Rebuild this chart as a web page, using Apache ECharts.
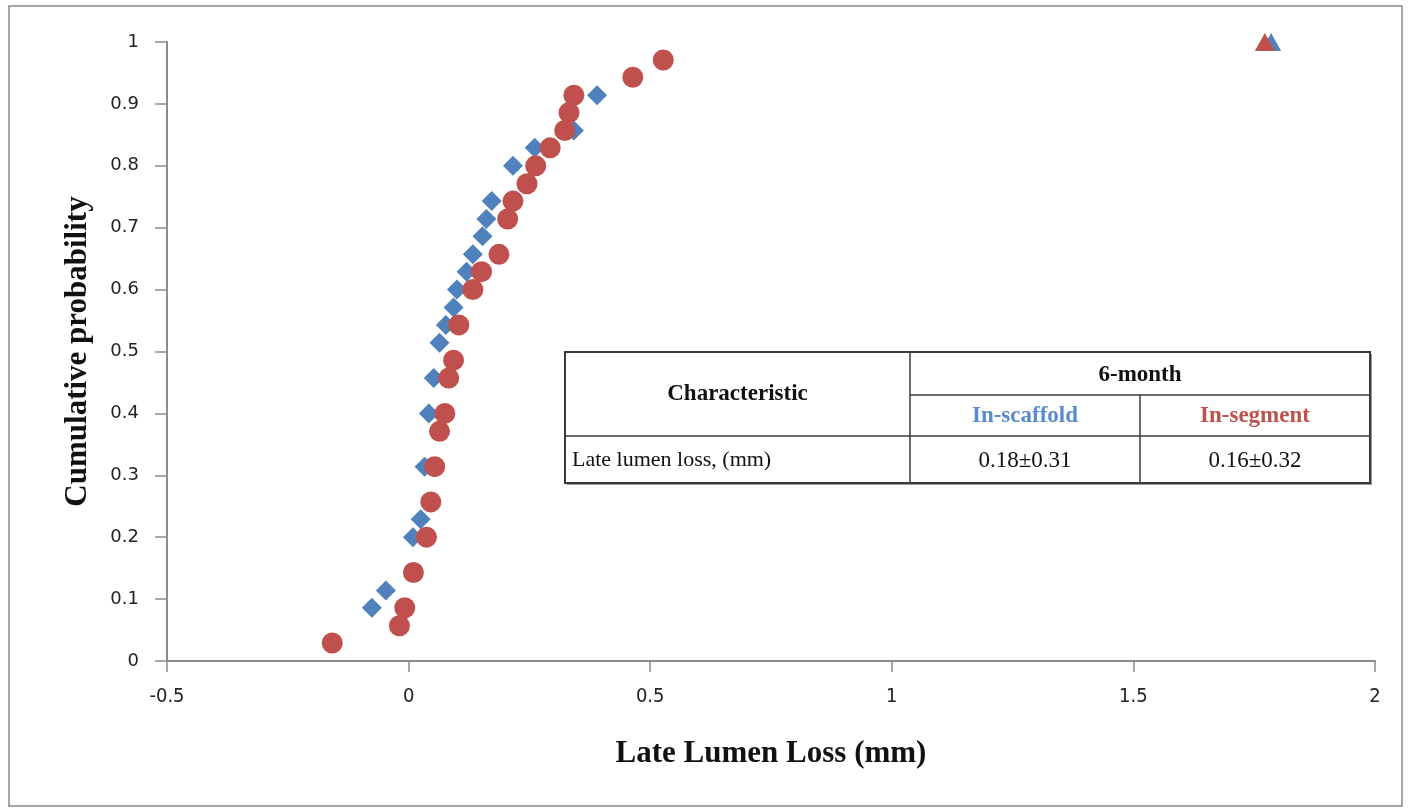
<!DOCTYPE html>
<html>
<head>
<meta charset="utf-8">
<script src="https://cdn.jsdelivr.net/npm/echarts@6/dist/echarts.min.js"></script>
<style>
  html, body { margin: 0; padding: 0; background: #fff; }
  #main { width: 1412px; height: 811px; }
</style>
</head>
<body>
<div id="main"></div>
<script>
// In-scaffold (blue diamonds)
const scaffoldX = [-0.076, -0.047, 0.009, 0.025, 0.033, 0.042, 0.052, 0.064, 0.077, 0.093, 0.1, 0.12, 0.133, 0.153, 0.161, 0.172, 0.216, 0.261, 0.342, 0.39]
const scaffoldY = [0.086, 0.114, 0.2, 0.229, 0.314, 0.4, 0.457, 0.514, 0.543, 0.571, 0.6, 0.629, 0.657, 0.686, 0.714, 0.743, 0.8, 0.829, 0.857, 0.914]
// In-segment (red circles)
const segmentX = [-0.158, -0.019, -0.008, 0.01, 0.037, 0.046, 0.054, 0.064, 0.075, 0.083, 0.093, 0.104, 0.133, 0.151, 0.187, 0.205, 0.216, 0.245, 0.263, 0.293, 0.323, 0.332, 0.342, 0.464, 0.527]
const segmentY = [0.029, 0.057, 0.086, 0.143, 0.2, 0.257, 0.314, 0.371, 0.4, 0.457, 0.486, 0.543, 0.6, 0.629, 0.657, 0.714, 0.743, 0.771, 0.8, 0.829, 0.857, 0.886, 0.914, 0.943, 0.971]
// last (max) points, drawn as triangles
const maxScaffold = [1.785, 1]
const maxSegment = [1.772, 1]

const xTicks = {min: -0.5, max: 2, interval: 0.5}
const yTicks = {min: 0, max: 1, interval: 0.1}

const blue = '#4f81bd'
const red = '#c0504d'

const toPairs = (xs, ys) => xs.map((x, i) => [x, ys[i]])

const tableRows = [
    ['Late lumen loss, (mm)', '0.18±0.31', '0.16±0.32']
]

let chart = echarts.init(document.getElementById('main'))

// table drawn as graphic elements
const tx = 565, ty = 352, tw = 805, th = 131
const c1 = 910, c2 = 1140, r1 = 395, r2 = 436
const serif = '"Liberation Serif", "DejaVu Serif", serif'
const line = (x1, y1, x2, y2, w) => ({
    type: 'line', shape: {x1, y1, x2, y2},
    style: {stroke: '#3a3a3a', lineWidth: w || 1.5}, z: 101
})
const txt = (x, y, text, opts) => ({
    type: 'text', x, y, z: 102,
    style: Object.assign({
        text, font: '22px ' + serif, fill: '#111',
        align: 'center', verticalAlign: 'middle'
    }, opts || {})
})

const graphics = [
    // outer frame
    {type: 'rect', shape: {x: 9, y: 6, width: 1393, height: 800},
     style: {fill: 'none', stroke: '#8a8a8a', lineWidth: 1.5}, z: 1},
    // table shadow + box
    {type: 'rect', shape: {x: tx + 2, y: ty + 2, width: tw, height: th},
     style: {fill: '#9a9a9a'}, z: 99},
    {type: 'rect', shape: {x: tx, y: ty, width: tw, height: th},
     style: {fill: '#fff', stroke: '#3a3a3a', lineWidth: 2}, z: 100},
    line(c1, ty, c1, ty + th),
    line(c2, r1, c2, ty + th),
    line(c1, r1, tx + tw, r1),
    line(tx, r2, tx + tw, r2),
    txt((tx + c1) / 2, (ty + r2) / 2, 'Characteristic', {font: 'bold 23px ' + serif}),
    txt((c1 + tx + tw) / 2, (ty + r1) / 2 + 2, '6-month', {font: 'bold 23px ' + serif}),
    txt((c1 + c2) / 2, (r1 + r2) / 2 + 1, 'In-scaffold', {font: 'bold 23px ' + serif, fill: '#5a8ccb'}),
    txt((c2 + tx + tw) / 2, (r1 + r2) / 2 + 1, 'In-segment', {font: 'bold 23px ' + serif, fill: '#c0504d'}),
    txt(tx + 7, (r2 + ty + th) / 2 + 1, tableRows[0][0], {align: 'left'}),
    txt((c1 + c2) / 2, (r2 + ty + th) / 2 + 1, tableRows[0][1], {font: '23px ' + serif}),
    txt((c2 + tx + tw) / 2, (r2 + ty + th) / 2 + 1, tableRows[0][2], {font: '23px ' + serif})
]

chart.setOption({
    animation: false,
    backgroundColor: '#fff',
    grid: {left: 167, right: 37, top: 42, bottom: 150},
    graphic: graphics,
    xAxis: {
        type: 'value',
        min: xTicks.min, max: xTicks.max, interval: xTicks.interval,
        name: 'Late Lumen Loss (mm)',
        nameLocation: 'middle',
        nameGap: 77,
        nameTextStyle: {fontFamily: serif, fontWeight: 'bold', fontSize: 31, color: '#111'},
        axisLine: {show: true, onZero: false, lineStyle: {color: '#8c8c8c', width: 2}},
        axisTick: {show: true, length: 11, lineStyle: {color: '#8c8c8c', width: 1.5}},
        axisLabel: {margin: 26, fontFamily: '"DejaVu Sans Condensed", "DejaVu Sans", sans-serif', fontSize: 20, color: '#222'},
        splitLine: {show: false}
    },
    yAxis: {
        type: 'value',
        min: yTicks.min, max: yTicks.max, interval: yTicks.interval,
        name: 'Cumulative probability',
        nameLocation: 'middle',
        nameGap: 74,
        nameTextStyle: {fontFamily: serif, fontWeight: 'bold', fontSize: 31, color: '#111'},
        axisLine: {show: true, onZero: false, lineStyle: {color: '#8c8c8c', width: 2}},
        axisTick: {show: true, length: 12, lineStyle: {color: '#8c8c8c', width: 1.5}},
        axisLabel: {margin: 28, fontFamily: '"DejaVu Sans", sans-serif', fontSize: 18, color: '#222'},
        splitLine: {show: false}
    },
    series: [
        {
            name: 'In-scaffold', type: 'scatter', symbol: 'diamond', symbolSize: 20,
            itemStyle: {color: blue, opacity: 1},
            data: toPairs(scaffoldX, scaffoldY), z: 2
        },
        {
            name: 'In-segment', type: 'scatter', symbol: 'circle', symbolSize: 21,
            itemStyle: {color: red, opacity: 1},
            data: toPairs(segmentX, segmentY), z: 3
        },
        {
            name: 'In-segment max', type: 'scatter', symbol: 'triangle', symbolSize: [20, 18],
            itemStyle: {color: red, opacity: 1},
            data: [maxSegment], z: 3
        },
        {
            name: 'In-scaffold max', type: 'scatter', symbol: 'triangle', symbolSize: [20, 18],
            itemStyle: {color: blue, opacity: 1},
            data: [maxScaffold], z: 2
        }
    ]
})
</script>
</body>
</html>
